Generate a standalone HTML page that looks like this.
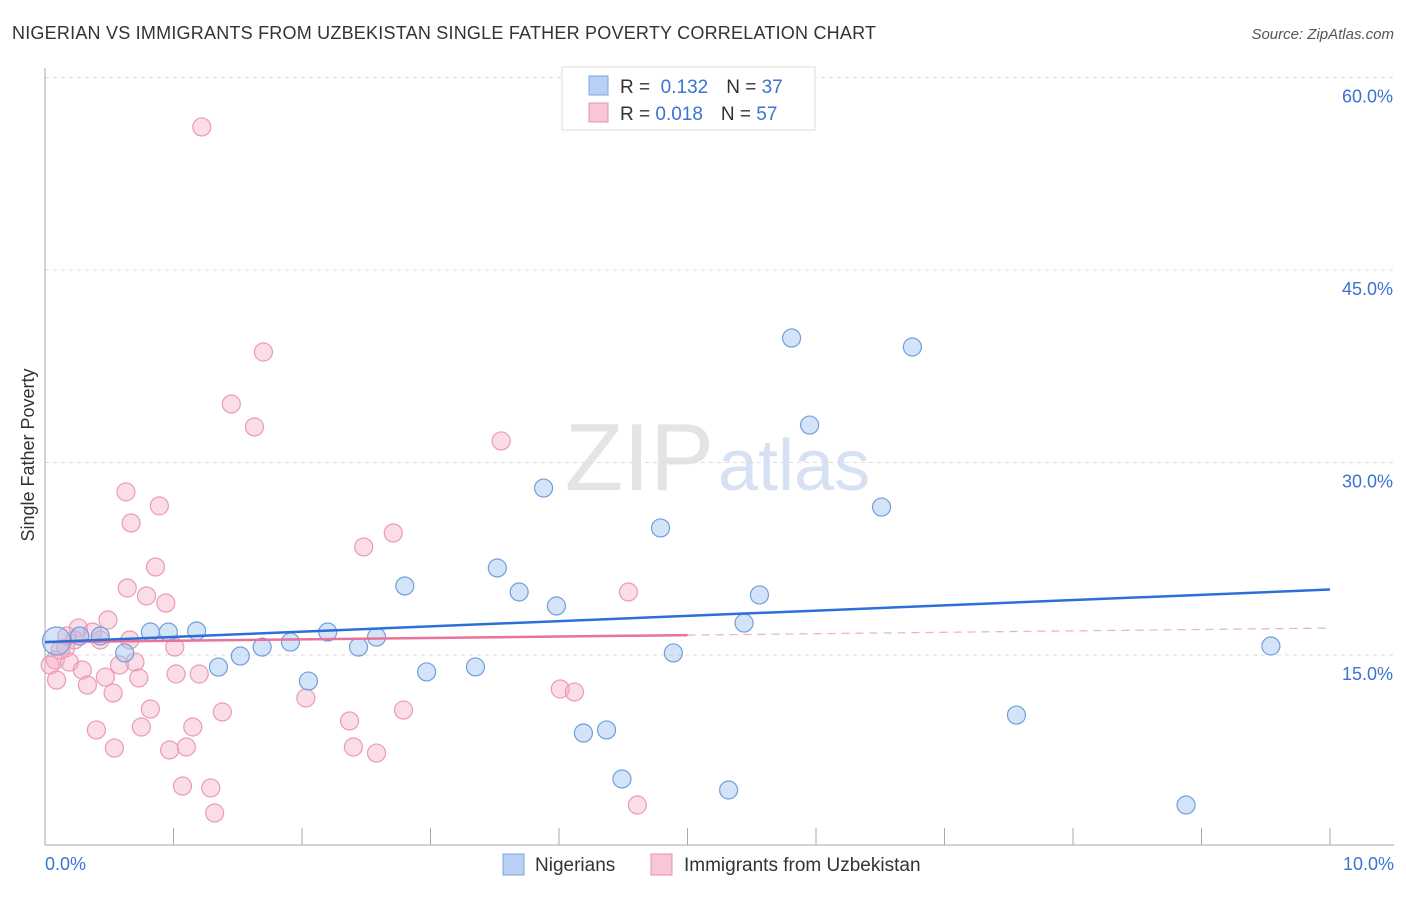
<!DOCTYPE html>
<html><head><meta charset="utf-8"><style>
body{margin:0;background:#fff;font-family:"Liberation Sans",sans-serif;}
svg text{font-family:"Liberation Sans",sans-serif;}
</style></head><body>
<svg id="chart" width="1406" height="892" xmlns="http://www.w3.org/2000/svg">
<text x="12" y="39" font-size="18" fill="#333" textLength="864" lengthAdjust="spacing">NIGERIAN VS IMMIGRANTS FROM UZBEKISTAN SINGLE FATHER POVERTY CORRELATION CHART</text>
<text x="1394" y="39" font-size="15" fill="#555" font-style="italic" text-anchor="end">Source: ZipAtlas.com</text>
<text x="714" y="490" font-size="96" fill="#e4e4e4" text-anchor="end" font-family="Liberation Serif">ZIP</text>
<text x="718" y="490" font-size="72" fill="#d6e2f3">atlas</text>
<text transform="translate(34,455) rotate(-90)" font-size="18" fill="#333" text-anchor="middle">Single Father Poverty</text>
<g id="grid"></g><g id="marks"></g>
<g>
<rect x="562" y="67" width="253" height="63" fill="#fff" stroke="#ddd"/>
<rect x="589" y="76" width="19" height="19" fill="#b7d0f3" stroke="#7aa6e0"/>
<rect x="589" y="103" width="19" height="19" fill="#f9c6d6" stroke="#e890ab"/>
<text x="620" y="93" font-size="19" fill="#333">R = <tspan fill="#3b73d1">&#160;0.132</tspan><tspan dx="18">N = </tspan><tspan fill="#3b73d1">37</tspan></text>
<text x="620" y="120" font-size="19" fill="#333">R = <tspan fill="#3b73d1">0.018</tspan><tspan dx="18">N = </tspan><tspan fill="#3b73d1">57</tspan></text>
</g>
<g>
<rect x="503" y="854" width="21" height="21" fill="#b7d0f3" stroke="#7aa6e0"/>
<text x="535" y="871" font-size="19" fill="#333">Nigerians</text>
<rect x="651" y="854" width="21" height="21" fill="#f9c6d6" stroke="#e890ab"/>
<text x="684" y="871" font-size="19" fill="#333">Immigrants from Uzbekistan</text>
</g>
</svg>
<script>
const yTicks=[15,30,45,60];
const xTickLabels=["0.0%","10.0%"];
const blueX=[0.09,0.27,0.43,0.62,0.82,0.96,1.18,1.35,1.52,1.69,1.91,2.05,2.20,2.44,2.58,2.80,2.97,3.35,3.52,3.69,3.88,3.98,4.19,4.37,4.49,4.79,4.89,5.32,5.44,5.56,5.81,5.95,6.51,6.75,7.56,8.88,9.54];
const blueY=[16.09,16.48,16.48,15.16,16.79,16.79,16.87,14.06,14.92,15.62,16.01,12.97,16.79,15.62,16.40,20.38,13.68,14.07,21.78,19.91,28.01,18.82,8.92,9.16,5.34,24.90,15.16,4.48,17.49,19.68,39.70,32.92,26.53,39.00,10.32,3.31,15.70];
const pinkX=[1.22,1.70,1.45,1.63,3.55,0.63,0.89,0.67,2.71,2.48,0.86,0.64,0.79,0.94,4.54,0.49,0.26,0.37,0.43,0.16,0.08,0.04,0.19,0.29,0.33,0.47,0.58,0.70,0.73,0.53,1.01,1.02,1.20,0.09,0.82,0.40,0.75,1.15,1.38,2.03,2.37,2.79,4.01,4.12,0.54,0.97,1.10,2.40,2.58,1.07,1.29,1.32,4.61,0.23,0.12,0.66,0.17];
const pinkY=[56.15,38.61,34.56,32.77,31.68,27.71,26.62,25.29,24.51,23.42,21.86,20.22,19.60,19.05,19.91,17.73,17.11,16.79,16.17,15.54,14.61,14.22,14.45,13.83,12.66,13.28,14.22,14.45,13.21,12.04,15.62,13.52,13.52,13.05,10.79,9.16,9.39,9.39,10.56,11.65,9.86,10.71,12.35,12.12,7.75,7.60,7.83,7.83,7.36,4.79,4.64,2.69,3.31,16.17,15.39,16.17,16.48];
const blueTrend=[16.0,20.1];
const pinkTrend=[16.0,17.1];
const X=v=>45+v*128.5, Y=v=>847.5-v*12.833;
const NS="http://www.w3.org/2000/svg";
function mk(t,a,p){const e=document.createElementNS(NS,t);for(const k in a)e.setAttribute(k,a[k]);p.appendChild(e);return e;}
const g=document.getElementById('grid'),m=document.getElementById('marks');
yTicks.forEach(t=>{
 const l=mk('line',{x1:45,x2:1394,y1:Y(t),y2:Y(t),stroke:'#ddd','stroke-dasharray':'4,4'},g);
 
 
 const tx=mk('text',{x:1393,y:Y(t)+25,'font-size':18,fill:'#3b73d1','text-anchor':'end'},g);tx.textContent=t.toFixed(1)+'%';
 
 
});
mk('line',{x1:45,x2:45,y1:68,y2:845,stroke:'#aaa'},g);
mk('line',{x1:45,x2:1394,y1:845,y2:845,stroke:'#aaa'},g);
for(let i=0;i<=10;i++){const t=mk('line',{x1:X(i),x2:X(i),y1:828,y2:845,stroke:'#aaa'},g);
 
 }
const a=mk('text',{x:45,y:870,'font-size':18,fill:'#3b73d1'},g);a.textContent=xTickLabels[0];


const b=mk('text',{x:1394,y:870,'font-size':18,fill:'#3b73d1','text-anchor':'end'},g);b.textContent=xTickLabels[1];


pinkX.forEach((x,i)=>{const c=mk('circle',{cx:X(x),cy:Y(pinkY[i]),r:9,fill:'rgba(245,170,195,0.4)',stroke:'#eb9ab4','stroke-width':1.2},m);
 
 });
blueX.forEach((x,i)=>{const c=mk('circle',{cx:X(x),cy:Y(blueY[i]),r:i==0?14:9,fill:'rgba(160,195,240,0.45)',stroke:'#6f9fdc','stroke-width':1.2},m);
 
 });
const pm=pinkTrend[0]+(pinkTrend[1]-pinkTrend[0])*0.5;
const p1=mk('line',{x1:X(0),y1:Y(pinkTrend[0]),x2:X(5),y2:Y(pm),stroke:'#e8729a','stroke-width':2.5},m);


const p2=mk('line',{x1:X(5),y1:Y(pm),x2:X(10),y2:Y(pinkTrend[1]),stroke:'#eab0c3','stroke-width':1.2,'stroke-dasharray':'8,6'},m);


const bl=mk('line',{x1:X(0),y1:Y(blueTrend[0]),x2:X(10),y2:Y(blueTrend[1]),stroke:'#2c6fd6','stroke-width':2.5},m);


</script>
</body></html>
